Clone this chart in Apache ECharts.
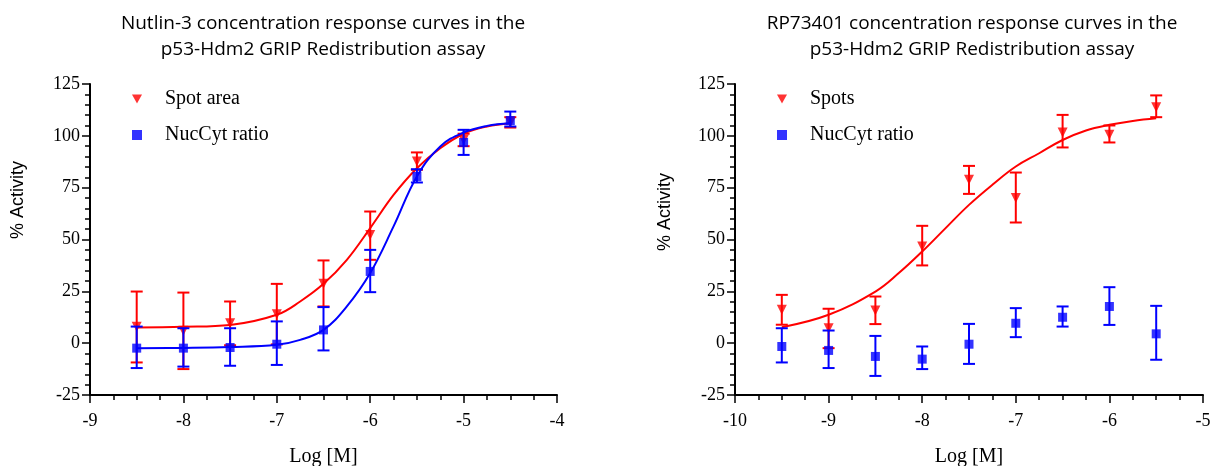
<!DOCTYPE html>
<html>
<head>
<meta charset="utf-8">
<script src="https://cdn.jsdelivr.net/npm/echarts@6/dist/echarts.min.js"></script>
<style>html,body{margin:0;padding:0;background:#fff}#c{width:1213px;height:466px}</style>
</head>
<body>
<div id="c"></div>
<script>
// ---------- Left panel: Nutlin-3 ----------
const logL = [-8.5, -8, -7.5, -7, -6.5, -6, -5.5, -5, -4.5];
const spotArea = [7.9, 6, 9.6, 14, 28.6, 52.2, 87.6, 98, 106.4];
const spotAreaHi = [24.9, 24.4, 20.1, 28.6, 39.9, 63.5, 92, 101, 109];
const spotAreaLo = [-9.3, -12.5, -1, -0.6, 17.7, 40.2, 83.6, 95, 104];
const nucL = [-2.4, -2.4, -2.1, -0.5, 6.4, 34.6, 80.4, 96.8, 107.4];
const nucLHi = [8, 7.2, 7.2, 10.5, 17.4, 45, 83.9, 102.9, 111.7];
const nucLLo = [-12, -11.3, -10.9, -10.5, -3.5, 24.6, 77.5, 90.8, 104.5];
// fitted curves
const fitXL = [-8.5, -8, -7.5, -7, -6.75, -6.5, -6.25, -6, -5.75, -5.5, -5.25, -5, -4.75, -4.5];
const fitSpotArea = [7.6, 7.9, 8.8, 13.7, 20.1, 28.6, 40.2, 55.5, 71.5, 84.4, 94, 101, 104.5, 106.1];
const fitNucL = [-2.4, -2.3, -1.9, -0.8, 1.6, 6.4, 17.7, 33.8, 56.3, 80.4, 94.9, 101.6, 104.8, 106.1];

// ---------- Right panel: RP73401 ----------
const logR = [-9.5, -9, -8.5, -8, -7.5, -7, -6.5, -6, -5.5];
const spots = [16.1, 7.2, 15.8, 46.6, 78.8, 70, 101.6, 100.5, 113.8];
const spotsHi = [23.3, 16.6, 22.5, 56.6, 85.5, 82.3, 110.1, 105, 119.5];
const spotsLo = [8.9, -2.4, 9.2, 37.5, 72, 58.2, 94.4, 96.8, 109];
const nucR = [-1.6, -3.5, -6.4, -7.7, -0.5, 9.6, 12.5, 17.7, 4.5];
const nucRHi = [7.2, 6.1, 3.5, -1.6, 9.3, 16.9, 17.7, 27, 18];
const nucRLo = [-9.3, -12, -15.8, -12.5, -10, 2.9, 8, 8.8, -8];
const fitXR = [-9.5, -9, -8.5, -8.25, -8, -7.75, -7.5, -7.25, -7, -6.75, -6.5, -6.25, -6, -5.75, -5.5];
const fitSpots = [7.7, 13.7, 24.9, 33.8, 44.2, 55.5, 66.7, 76.4, 85.2, 91.6, 98, 102.6, 105.3, 107.2, 108.5];

const yTicks = [-25, 0, 25, 50, 75, 100, 125];

const RED = '#ff0000', BLUE = '#0000ff';
const SERIF = 'Liberation Serif';
const TRI = 'path://M0,0L10,0L5,9Z';

function zip(a, b) { return a.map((v, i) => [v, b[i]]); }
function errData(x, lo, hi) { return x.map((v, i) => [v, lo[i], hi[i]]); }

function errSeries(name, idx, data, color, z) {
  return {
    type: 'custom', name: name, xAxisIndex: idx, yAxisIndex: idx, z: z, silent: true,
    data: data,
    renderItem: function (params, api) {
      const lo = api.coord([api.value(0), api.value(1)]);
      const hi = api.coord([api.value(0), api.value(2)]);
      const w = 6;
      const st = { stroke: color, lineWidth: 2 };
      return {
        type: 'group',
        children: [
          { type: 'line', shape: { x1: lo[0], y1: lo[1], x2: hi[0], y2: hi[1] }, style: st },
          { type: 'line', shape: { x1: lo[0] - w, y1: lo[1], x2: lo[0] + w, y2: lo[1] }, style: st },
          { type: 'line', shape: { x1: hi[0] - w, y1: hi[1], x2: hi[0] + w, y2: hi[1] }, style: st }
        ]
      };
    }
  };
}

function fitSeries(name, idx, x, y, color, z) {
  return {
    type: 'line', name: name, xAxisIndex: idx, yAxisIndex: idx, z: z,
    data: zip(x, y), smooth: 0.4, symbol: 'none', silent: true,
    lineStyle: { color: color, width: 2 }
  };
}

function pointSeries(name, idx, x, y, color, symbol, size, rot, z) {
  return {
    type: 'scatter', name: name, xAxisIndex: idx, yAxisIndex: idx, z: z,
    data: zip(x, y), symbol: symbol, symbolSize: size, symbolRotate: rot, silent: true,
    itemStyle: { color: color }
  };
}

function tickLabel(margin) {
  return { margin: margin, showMinLabel: true, showMaxLabel: true, fontFamily: SERIF, fontSize: 18, color: '#000' };
}

function xAxisDef(idx, min, max) {
  return {
    type: 'value', gridIndex: idx, min: min, max: max, interval: 1,
    name: 'Log [M]', nameLocation: 'middle', nameGap: 52,
    nameTextStyle: { fontFamily: SERIF, fontSize: 20, color: '#000' },
    axisLine: { show: true, onZero: false, lineStyle: { color: '#000', width: 2 } },
    axisTick: { show: true, length: 8, lineStyle: { color: '#000', width: 1.5 } },
    minorTick: { show: true, splitNumber: 4, length: 5, lineStyle: { color: '#000', width: 1.5 } },
    splitLine: { show: false },
    axisLabel: tickLabel(17)
  };
}
function yAxisDef(idx) {
  return {
    type: 'value', gridIndex: idx, min: yTicks[0], max: yTicks[yTicks.length - 1], interval: 25,
    axisLine: { show: true, onZero: false, lineStyle: { color: '#000', width: 2 } },
    axisTick: { show: true, length: 8, lineStyle: { color: '#000', width: 1.5 } },
    minorTick: { show: true, splitNumber: 5, length: 5, lineStyle: { color: '#000', width: 1.5 } },
    splitLine: { show: false },
    axisLabel: tickLabel(10)
  };
}

function legendDef(left, names) {
  return {
    left: left, top: 89, orient: 'vertical', itemGap: 16, itemWidth: 10, itemHeight: 10,
    padding: 0, selectedMode: false,
    textStyle: { fontFamily: SERIF, fontSize: 20, color: '#000', lineHeight: 20, padding: [0, 0, 0, 18] },
    data: names
  };
}

const titleStyle = { fontFamily: 'Open Sans', fontSize: 19, fontWeight: 'normal', color: '#000', lineHeight: 26 };

const chart = echarts.init(document.getElementById('c'), null, { renderer: 'canvas' });
chart.setOption({
  animation: false,
  title: [
    { text: 'Nutlin-3 concentration response curves in the\np53-Hdm2 GRIP Redistribution assay', left: 318, top: 6, textAlign: 'center', textStyle: titleStyle },
    { text: 'RP73401 concentration response curves in the\np53-Hdm2 GRIP Redistribution assay', left: 967, top: 6, textAlign: 'center', textStyle: titleStyle }
  ],
  legend: [
    legendDef(132, [{ name: 'Spot area', icon: TRI, itemStyle: { color: RED } }, { name: 'NucCyt ratio', icon: 'rect', itemStyle: { color: BLUE } }]),
    legendDef(777, [{ name: 'Spots', icon: TRI, itemStyle: { color: RED } }, { name: 'NucCyt ratio ', icon: 'rect', itemStyle: { color: BLUE } }])
  ],
  grid: [
    { left: 90, top: 84, width: 467, height: 311, containLabel: false, outerBoundsMode: 'none' },
    { left: 735, top: 84, width: 468, height: 311, containLabel: false, outerBoundsMode: 'none' }
  ],
  xAxis: [xAxisDef(0, -9, -4), xAxisDef(1, -10, -5)],
  yAxis: [yAxisDef(0), yAxisDef(1)],
  graphic: [
    { type: 'text', x: 18, y: 200, rotation: Math.PI / 2, style: { text: '% Activity', font: '18px "Liberation Sans"', fill: '#000', align: 'center', verticalAlign: 'middle' } },
    { type: 'text', x: 665, y: 212, rotation: Math.PI / 2, style: { text: '% Activity', font: '18px "Liberation Sans"', fill: '#000', align: 'center', verticalAlign: 'middle' } }
  ],
  series: [
    fitSeries('Spot area fit', 0, fitXL, fitSpotArea, RED, 2),
    errSeries('Spot area err', 0, errData(logL, spotAreaLo, spotAreaHi), RED, 3),
    pointSeries('Spot area', 0, logL, spotArea, RED, 'triangle', 10, 180, 4),
    fitSeries('NucCyt fit', 0, fitXL, fitNucL, BLUE, 5),
    errSeries('NucCyt err', 0, errData(logL, nucLLo, nucLHi), BLUE, 6),
    pointSeries('NucCyt ratio', 0, logL, nucL, BLUE, 'rect', 9, 0, 7),

    fitSeries('Spots fit', 1, fitXR, fitSpots, RED, 2),
    errSeries('Spots err', 1, errData(logR, spotsLo, spotsHi), RED, 3),
    pointSeries('Spots', 1, logR, spots, RED, 'triangle', 10, 180, 4),
    errSeries('NucCyt err R', 1, errData(logR, nucRLo, nucRHi), BLUE, 6),
    pointSeries('NucCyt ratio ', 1, logR, nucR, BLUE, 'rect', 9, 0, 7)
  ]
});
</script>
</body>
</html>
